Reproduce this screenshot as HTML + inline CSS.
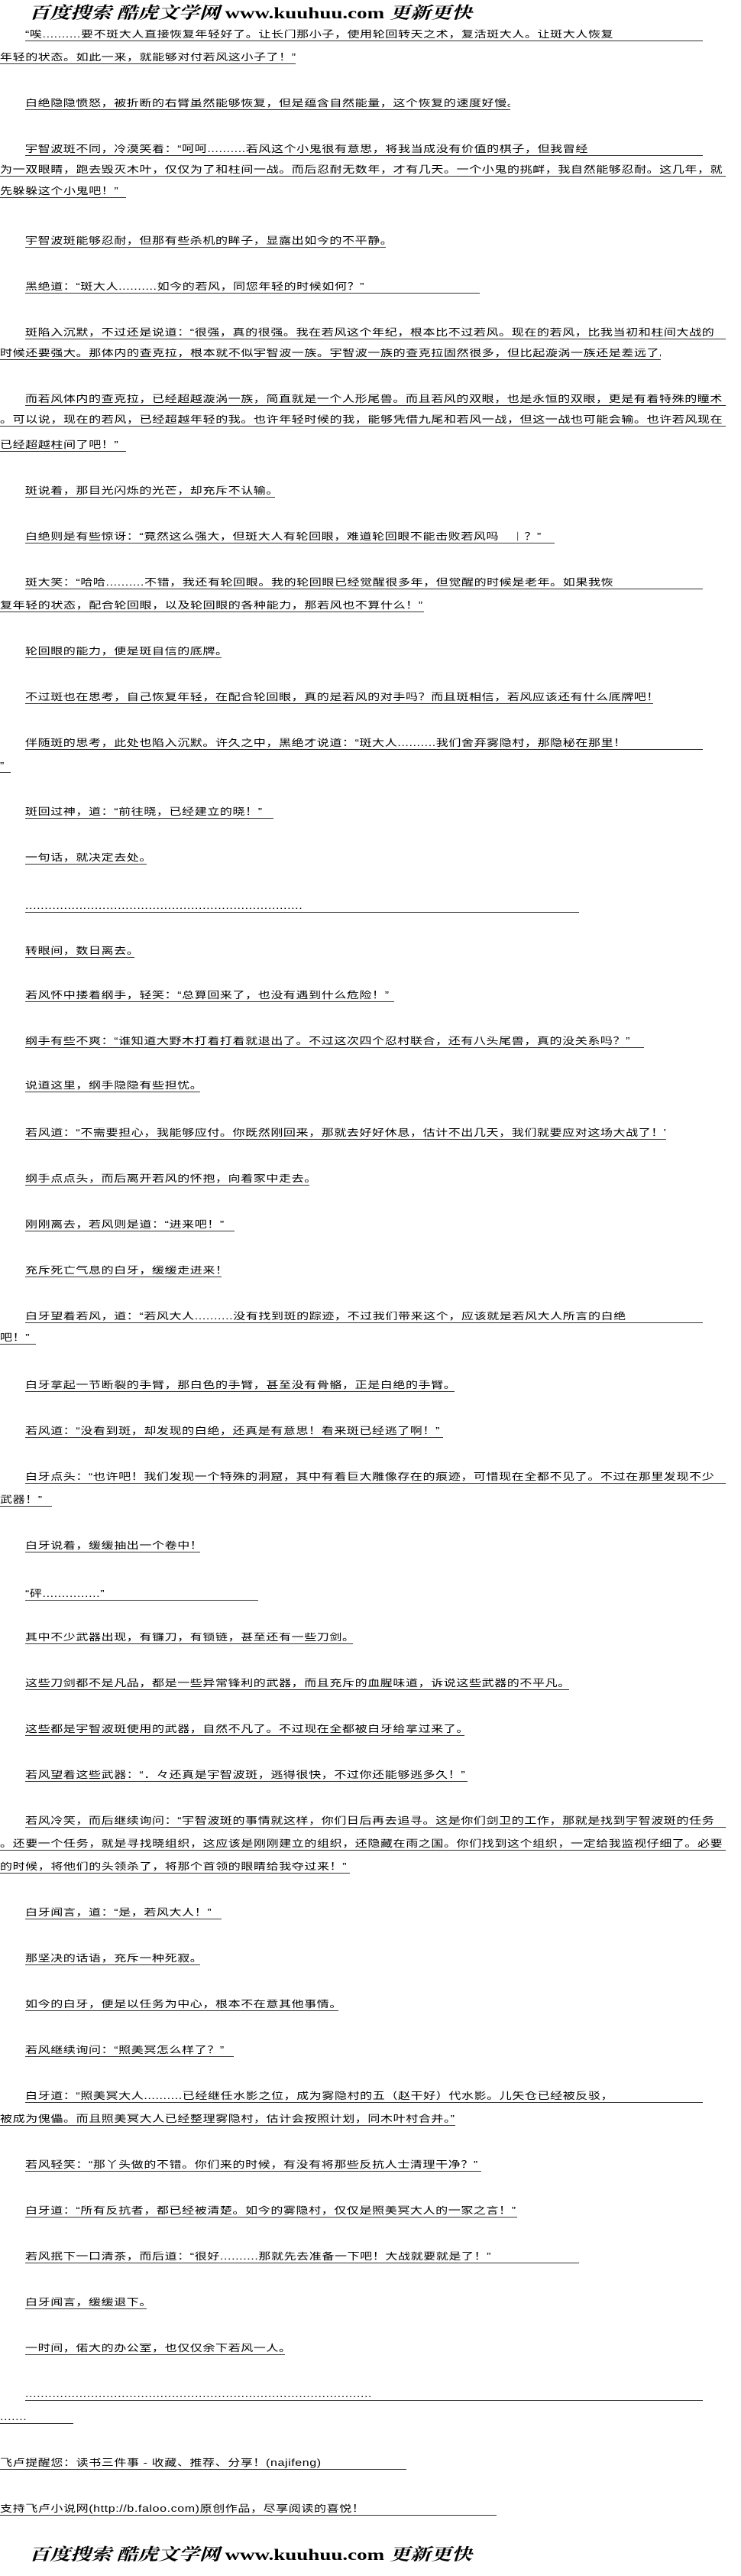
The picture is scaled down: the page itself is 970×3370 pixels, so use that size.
<!DOCTYPE html>
<html><head><meta charset="utf-8">
<style>
html,body{margin:0;padding:0;background:#fff;}
body{width:970px;height:3370px;position:relative;overflow:hidden;font-family:"Liberation Sans","Noto Sans CJK SC","WenQuanYi Zen Hei",sans-serif;color:#000;}
.l{position:absolute;height:18px;font-size:16px;line-height:18px;white-space:nowrap;overflow:hidden;border-bottom:1px solid #000;transform:scaleY(0.8);transform-origin:bottom left;letter-spacing:0.6px;}
.logo{position:absolute;left:38px;font-family:"Liberation Serif","Noto Serif CJK SC",serif;font-weight:bold;font-size:27px;line-height:30px;white-space:nowrap;transform:scaleY(0.8);transform-origin:top left;}
.logo i{font-style:italic;font-family:"Noto Serif CJK SC",serif;}
</style></head><body>
<div class="logo" style="top:3px"><i>百度搜索 酷虎文学网</i> www.kuuhuu.com <i>更新更快</i></div>

<div class="l" style="top:35px;left:33px;width:887px">“唉..........要不斑大人直接恢复年轻好了。让长门那小子，使用轮回转天之术，复活斑大人。让斑大人恢复</div>
<div class="l" style="top:65px;left:0;width:387px">年轻的状态。如此一来，就能够对付若风这小子了！”</div>
<div class="l" style="top:125px;left:33px;width:635px">白绝隐隐愤怒，被折断的右臂虽然能够恢复，但是蕴含自然能量，这个恢复的速度好慢。</div>
<div class="l" style="top:185px;left:33px;width:887px">宇智波斑不同，冷漠笑着：“呵呵..........若风这个小鬼很有意思，将我当成没有价值的棋子，但我曾经</div>
<div class="l" style="top:212px;left:0;width:950px">为一双眼睛，跑去毁灭木叶，仅仅为了和柱间一战。而后忍耐无数年，才有几天。一个小鬼的挑衅，我自然能够忍耐。这几年，就</div>
<div class="l" style="top:240px;left:0;width:165px">先躲躲这个小鬼吧！”</div>
<div class="l" style="top:305px;left:33px;width:472px">宇智波斑能够忍耐，但那有些杀机的眸子，显露出如今的不平静。</div>
<div class="l" style="top:365px;left:33px;width:595px">黑绝道：“斑大人..........如今的若风，同您年轻的时候如何？”</div>
<div class="l" style="top:425px;left:33px;width:917px">斑陷入沉默，不过还是说道：“很强，真的很强。我在若风这个年纪，根本比不过若风。现在的若风，比我当初和柱间大战的</div>
<div class="l" style="top:452px;left:0;width:865px">时候还要强大。那体内的查克拉，根本就不似宇智波一族。宇智波一族的查克拉固然很多，但比起漩涡一族还是差远了。</div>
<div class="l" style="top:512px;left:33px;width:917px">而若风体内的查克拉，已经超越漩涡一族，简直就是一个人形尾兽。而且若风的双眼，也是永恒的双眼，更是有着特殊的瞳术</div>
<div class="l" style="top:539px;left:0;width:950px">。可以说，现在的若风，已经超越年轻的我。也许年轻时候的我，能够凭借九尾和若风一战，但这一战也可能会输。也许若风现在</div>
<div class="l" style="top:572px;left:0;width:165px">已经超越柱间了吧！”</div>
<div class="l" style="top:632px;left:33px;width:327px">斑说着，那目光闪烁的光芒，却充斥不认输。</div>
<div class="l" style="top:692px;left:33px;width:693px">白绝则是有些惊讶：“竟然这么强大，但斑大人有轮回眼，难道轮回眼不能击败若风吗｀｜？”</div>
<div class="l" style="top:752px;left:33px;width:887px">斑大笑：“哈哈..........不错，我还有轮回眼。我的轮回眼已经觉醒很多年，但觉醒的时候是老年。如果我恢</div>
<div class="l" style="top:782px;left:0;width:555px">复年轻的状态，配合轮回眼，以及轮回眼的各种能力，那若风也不算什么！”</div>
<div class="l" style="top:842px;left:33px;width:257px">轮回眼的能力，便是斑自信的底牌。</div>
<div class="l" style="top:902px;left:33px;width:822px">不过斑也在思考，自己恢复年轻，在配合轮回眼，真的是若风的对手吗？而且斑相信，若风应该还有什么底牌吧！</div>
<div class="l" style="top:962px;left:33px;width:887px">伴随斑的思考，此处也陷入沉默。许久之中，黑绝才说道：“斑大人..........我们舍弃雾隐村，那隐秘在那里！</div>
<div class="l" style="top:992px;left:0;width:14px">”</div>
<div class="l" style="top:1052px;left:33px;width:325px">斑回过神，道：“前往晓，已经建立的晓！”</div>
<div class="l" style="top:1112px;left:33px;width:159px">一句话，就决定去处。</div>
<div class="l" style="top:1175px;left:33px;width:725px">........................................................................</div>
<div class="l" style="top:1234px;left:33px;width:143px">转眼间，数日离去。</div>
<div class="l" style="top:1292px;left:33px;width:483px">若风怀中搂着纲手，轻笑：“总算回来了，也没有遇到什么危险！”</div>
<div class="l" style="top:1352px;left:33px;width:810px">纲手有些不爽：“谁知道大野木打着打着就退出了。不过这次四个忍村联合，还有八头尾兽，真的没关系吗？”</div>
<div class="l" style="top:1410px;left:33px;width:229px">说道这里，纲手隐隐有些担忧。</div>
<div class="l" style="top:1472px;left:33px;width:839px">若风道：“不需要担心，我能够应付。你既然刚回来，那就去好好休息，估计不出几天，我们就要应对这场大战了！”</div>
<div class="l" style="top:1532px;left:33px;width:372px">纲手点点头，而后离开若风的怀抱，向着家中走去。</div>
<div class="l" style="top:1592px;left:33px;width:274px">刚刚离去，若风则是道：“进来吧！”</div>
<div class="l" style="top:1652px;left:33px;width:257px">充斥死亡气息的白牙，缓缓走进来！</div>
<div class="l" style="top:1712px;left:33px;width:887px">白牙望着若风，道：“若风大人..........没有找到斑的踪迹，不过我们带来这个，应该就是若风大人所言的白绝</div>
<div class="l" style="top:1740px;left:0;width:47px">吧！”</div>
<div class="l" style="top:1802px;left:33px;width:562px">白牙拿起一节断裂的手臂，那白色的手臂，甚至没有骨骼，正是白绝的手臂。</div>
<div class="l" style="top:1862px;left:33px;width:547px">若风道：“没看到斑，却发现的白绝，还真是有意思！看来斑已经逃了啊！”</div>
<div class="l" style="top:1922px;left:33px;width:917px">白牙点头：“也许吧！我们发现一个特殊的洞窟，其中有着巨大雕像存在的痕迹，可惜现在全都不见了。不过在那里发现不少</div>
<div class="l" style="top:1952px;left:0;width:68px">武器！”</div>
<div class="l" style="top:2012px;left:33px;width:229px">白牙说着，缓缓抽出一个卷中！</div>
<div class="l" style="top:2075px;left:33px;width:305px">“砰...............”</div>
<div class="l" style="top:2132px;left:33px;width:429px">其中不少武器出现，有镰刀，有锁链，甚至还有一些刀剑。</div>
<div class="l" style="top:2192px;left:33px;width:712px">这些刀剑都不是凡品，都是一些异常锋利的武器，而且充斥的血腥味道，诉说这些武器的不平凡。</div>
<div class="l" style="top:2252px;left:33px;width:575px">这些都是宇智波斑使用的武器，自然不凡了。不过现在全都被白牙给拿过来了。</div>
<div class="l" style="top:2312px;left:33px;width:579px">若风望着这些武器：“．々还真是宇智波斑，逃得很快，不过你还能够逃多久！”</div>
<div class="l" style="top:2372px;left:33px;width:917px">若风冷笑，而后继续询问：“宇智波斑的事情就这样，你们日后再去追寻。这是你们剑卫的工作，那就是找到宇智波斑的任务</div>
<div class="l" style="top:2402px;left:0;width:950px">。还要一个任务，就是寻找晓组织，这应该是刚刚建立的组织，还隐藏在雨之国。你们找到这个组织，一定给我监视仔细了。必要</div>
<div class="l" style="top:2432px;left:0;width:458px">的时候，将他们的头领杀了，将那个首领的眼睛给我夺过来！”</div>
<div class="l" style="top:2492px;left:33px;width:257px">白牙闻言，道：“是，若风大人！”</div>
<div class="l" style="top:2552px;left:33px;width:229px">那坚决的话语，充斥一种死寂。</div>
<div class="l" style="top:2612px;left:33px;width:410px">如今的白牙，便是以任务为中心，根本不在意其他事情。</div>
<div class="l" style="top:2672px;left:33px;width:273px">若风继续询问：“照美冥怎么样了？”</div>
<div class="l" style="top:2732px;left:33px;width:887px">白牙道：“照美冥大人..........已经继任水影之位，成为雾隐村的五（赵干好）代水影。儿矢仓已经被反驳，</div>
<div class="l" style="top:2762px;left:0;width:596px">被成为傀儡。而且照美冥大人已经整理雾隐村，估计会按照计划，同木叶村合并。”</div>
<div class="l" style="top:2822px;left:33px;width:597px">若风轻笑：“那丫头做的不错。你们来的时候，有没有将那些反抗人士清理干净？”</div>
<div class="l" style="top:2882px;left:33px;width:644px">白牙道：“所有反抗者，都已经被清楚。如今的雾隐村，仅仅是照美冥大人的一家之言！”</div>
<div class="l" style="top:2942px;left:33px;width:725px">若风抿下一口清茶，而后道：“很好..........那就先去准备一下吧！大战就要就是了！”</div>
<div class="l" style="top:3002px;left:33px;width:159px">白牙闻言，缓缓退下。</div>
<div class="l" style="top:3062px;left:33px;width:340px">一时间，偌大的办公室，也仅仅余下若风一人。</div>
<div class="l" style="top:3122px;left:33px;width:887px">..........................................................................................</div>
<div class="l" style="top:3152px;left:0;width:96px">.......</div>
<div class="l" style="top:3212px;left:0;width:532px">飞卢提醒您：读书三件事 - 收藏、推荐、分享！(najifeng)</div>
<div class="l" style="top:3272px;left:0;width:650px">支持飞卢小说网(http://b.faloo.com)原创作品，尽享阅读的喜悦！</div>

<div class="logo" style="top:3328px"><i>百度搜索 酷虎文学网</i> www.kuuhuu.com <i>更新更快</i></div>
</body></html>
